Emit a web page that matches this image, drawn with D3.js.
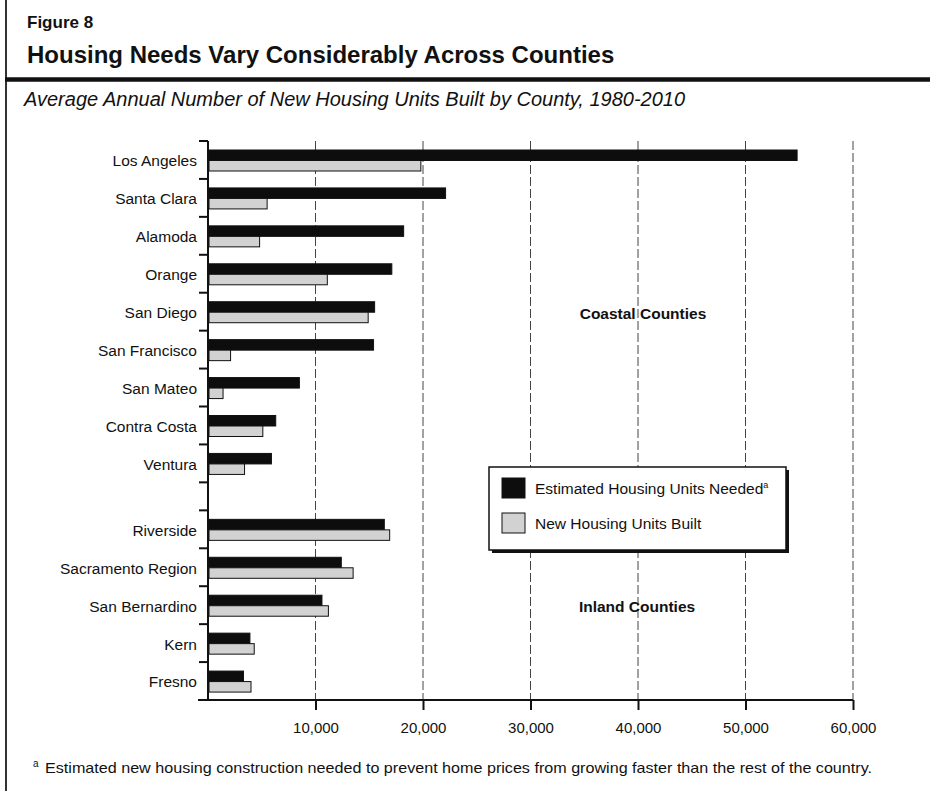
<!DOCTYPE html>
<html>
<head>
<meta charset="utf-8">
<script src="https://cdn.jsdelivr.net/npm/d3@7"></script>
<style>
    body { margin: 0; background: #fff; }
    text { font-family: "Liberation Sans", Arial, Helvetica, sans-serif; fill: #111; }
</style>
</head>
<body>
<div id="chart_div"></div>
<script>
// data (average annual units, 1980-2010)
const counties = ["Los Angeles", "Santa Clara", "Alamoda", "Orange", "San Diego", "San Francisco", "San Mateo",
    "Contra Costa", "Ventura", "Riverside", "Sacramento Region", "San Bernardino", "Kern", "Fresno"];
const groups = ["Coastal", "Coastal", "Coastal", "Coastal", "Coastal", "Coastal", "Coastal",
    "Coastal", "Coastal", "Inland", "Inland", "Inland", "Inland", "Inland"];
const units_needed = [54800, 22100, 18200, 17100, 15500, 15400, 8500, 6300, 5900, 16400, 12400, 10600, 3900, 3300];
const units_built = [19800, 5500, 4800, 11100, 14900, 2100, 1400, 5100, 3400, 16900, 13500, 11200, 4300, 4000];
const x_ticks = [10000, 20000, 30000, 40000, 50000, 60000];
const series_keys = ["needed", "built"];
const series_labels = ["Estimated Housing Units Needed", "New Housing Units Built"];
const group_labels = ["Coastal Counties", "Inland Counties"];

let rows = counties.map((c, i) => ({name: c, group: groups[i], needed: units_needed[i], built: units_built[i]}));

let svg = d3.select('#chart_div').append('svg')
    .attr('width', 930)
    .attr('height', 791);

// frame: left border + heavy rule under title
svg.append('line').attr('x1', 6).attr('x2', 6).attr('y1', 0).attr('y2', 791)
    .attr('stroke', '#333').attr('stroke-width', 2);
svg.append('line').attr('x1', 5).attr('x2', 930).attr('y1', 79.5).attr('y2', 79.5)
    .attr('stroke', '#111').attr('stroke-width', 4.5);

svg.append('text').attr('x', 27).attr('y', 28)
    .style('font-size', '17px').style('font-weight', 'bold').text('Figure 8');
svg.append('text').attr('x', 27).attr('y', 63)
    .style('font-size', '24px').style('font-weight', 'bold')
    .text('Housing Needs Vary Considerably Across Counties');
svg.append('text').attr('x', 24).attr('y', 106)
    .style('font-size', '20px').style('font-style', 'italic')
    .text('Average Annual Number of New Housing Units Built by County, 1980-2010');

let margin = {top: 141, left: 208, bottom: 700, right: 853};
let group_gap = 28;

let x = d3.scaleLinear().domain([0, 60000]).range([margin.left, margin.right]);

let y = d3.scaleBand()
    .domain(counties)
    .range([margin.top, margin.bottom - group_gap])
    .paddingInner(0).paddingOuter(0);

let y_pos = d => y(d.name) + (d.group === 'Inland' ? group_gap : 0);

let sub = d3.scaleBand().domain(series_keys).range([9, 30]);

let color = d3.scaleOrdinal().domain(series_keys).range(['#0d0d0d', '#d2d2d2']);

// dashed grid
svg.append('g').attr('class', 'grid').selectAll('line')
    .data(x_ticks).enter().append('line')
    .attr('x1', d => x(d)).attr('x2', d => x(d))
    .attr('y1', margin.top).attr('y2', margin.bottom)
    .attr('stroke', '#444').attr('stroke-width', 1)
    .attr('stroke-dasharray', '9,3');

// group labels
svg.append('text').attr('x', 643).attr('y', 319).attr('text-anchor', 'middle')
    .style('font-size', '15.5px').style('font-weight', 'bold').text(group_labels[0]);
svg.append('text').attr('x', 637).attr('y', 612).attr('text-anchor', 'middle')
    .style('font-size', '15.5px').style('font-weight', 'bold').text(group_labels[1]);

// bars
let layer = svg.selectAll('g.layer')
    .data(series_keys).enter().append('g')
    .attr('class', 'layer')
    .attr('fill', k => color(k));

layer.selectAll('rect')
    .data(k => rows.map(r => ({key: k, row: r, value: r[k]})))
    .enter().append('rect')
    .attr('x', x(0) + 1)
    .attr('y', d => y_pos(d.row) + sub(d.key))
    .attr('width', d => x(d.value) - x(0) - 1)
    .attr('height', sub.bandwidth())
    .attr('stroke', '#111')
    .attr('stroke-width', 1);

// y axis with ticks at band boundaries
let boundaries = rows.map(r => y_pos(r));
boundaries.push(y_pos(rows[8]) + y.bandwidth());
boundaries.push(margin.bottom);

svg.append('line').attr('x1', margin.left).attr('x2', margin.left)
    .attr('y1', margin.top).attr('y2', margin.bottom)
    .attr('stroke', '#111').attr('stroke-width', 2);
svg.append('g').selectAll('line').data(boundaries).enter().append('line')
    .attr('x1', margin.left - 9).attr('x2', margin.left)
    .attr('y1', d => d).attr('y2', d => d)
    .attr('stroke', '#111').attr('stroke-width', 2);

svg.append('g').selectAll('text').data(rows).enter().append('text')
    .attr('x', 197)
    .attr('y', d => y_pos(d) + y.bandwidth() / 2 + 1)
    .attr('dy', '0.35em')
    .attr('text-anchor', 'end')
    .style('font-size', '15.5px')
    .text(d => d.name);

// x axis
let x_axis = svg.append('g')
    .attr('class', 'x-axis')
    .attr('transform', `translate(0,${margin.bottom})`)
    .call(d3.axisBottom(x).tickValues(x_ticks).tickFormat(d3.format(',')).tickSize(10).tickSizeOuter(0));
x_axis.select('.domain').remove();
x_axis.selectAll('.tick line').attr('stroke', '#111').attr('stroke-width', 2);
x_axis.selectAll('.tick text')
    .attr('y', 22)
    .style('font-size', '15px')
    .style('font-family', '"Liberation Sans", Arial, sans-serif')
    .attr('fill', '#111');
svg.append('line').attr('x1', margin.left - 10).attr('x2', margin.right)
    .attr('y1', margin.bottom).attr('y2', margin.bottom)
    .attr('stroke', '#111').attr('stroke-width', 2);

// legend
let legend = svg.append('g').attr('class', 'legend');
legend.append('rect').attr('x', 492).attr('y', 470).attr('width', 297).attr('height', 83).attr('fill', '#111');
legend.append('rect').attr('x', 489).attr('y', 467).attr('width', 297).attr('height', 83)
    .attr('fill', '#fff').attr('stroke', '#111').attr('stroke-width', 1.5);

series_keys.forEach(function (k, i) {
    legend.append('rect')
        .attr('x', 502).attr('y', 478 + i * 35)
        .attr('width', 23).attr('height', 20)
        .attr('fill', color(k)).attr('stroke', '#111').attr('stroke-width', 1);
    let t = legend.append('text')
        .attr('x', 535).attr('y', 494 + i * 35)
        .style('font-size', '15.5px')
        .text(series_labels[i]);
    if (k === 'needed') {
        t.append('tspan').attr('dy', -6).style('font-size', '9px').text('a');
    }
});

// footnote
svg.append('text').attr('x', 33).attr('y', 767).style('font-size', '10px').text('a');
svg.append('text').attr('x', 45).attr('y', 773)
    .attr('textLength', 827).attr('lengthAdjust', 'spacingAndGlyphs')
    .style('font-size', '15px')
    .text('Estimated new housing construction needed to prevent home prices from growing faster than the rest of the country.');
</script>
</body>
</html>
